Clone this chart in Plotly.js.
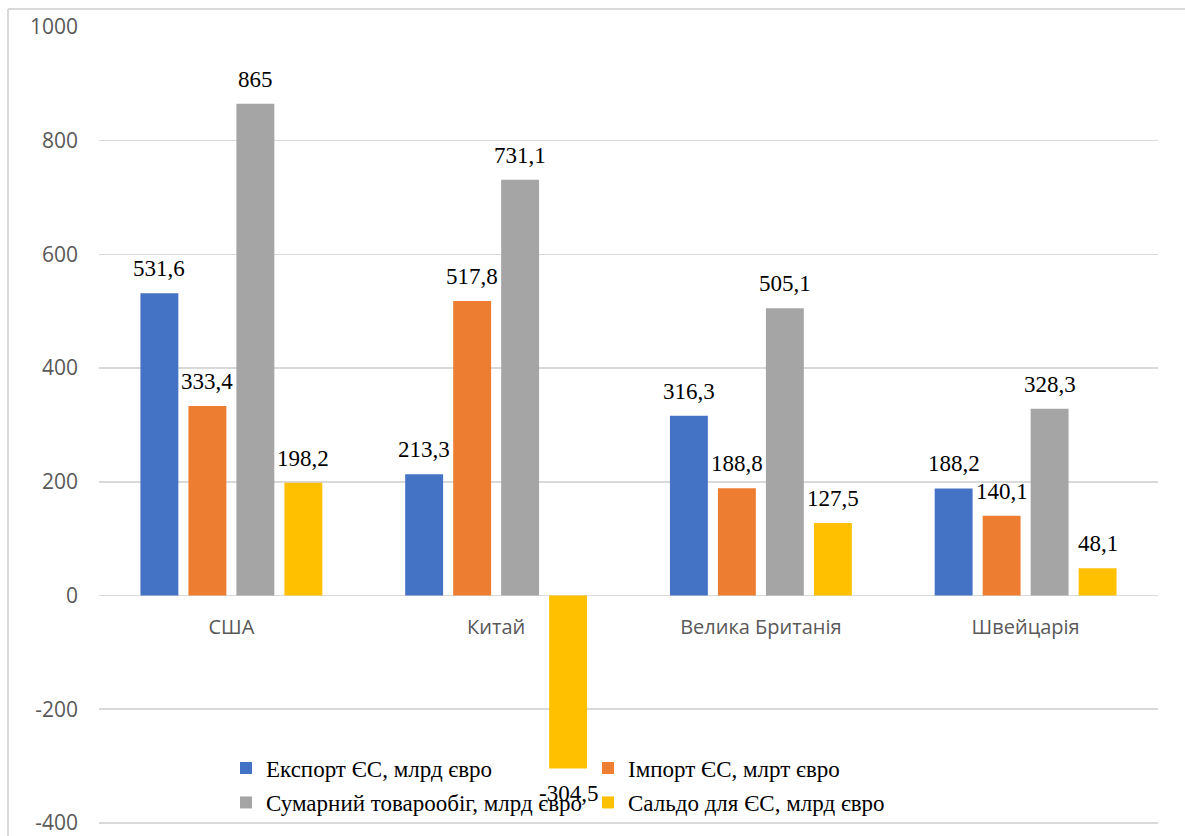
<!DOCTYPE html>
<html>
<head>
<meta charset="utf-8">
<script src="https://cdn.plot.ly/plotly-3.0.1.min.js"></script>
<style>
  html, body { margin: 0; padding: 0; background: #ffffff; overflow: hidden; }
  #chart { width: 1185px; height: 836px; }
</style>
</head>
<body>
<div id="chart"></div>
<script>
// ---- Data ----
const categories = ['США', 'Китай', 'Велика Британія', 'Швейцарія'];
const seriesNames = [
  'Експорт ЄС, млрд євро',
  'Імпорт ЄС, млрт євро',
  'Сумарний товарообіг, млрд євро',
  'Сальдо для ЄС, млрд євро'
];
const exportEU = [531.6, 213.3, 316.3, 188.2];
const importEU = [333.4, 517.8, 188.8, 140.1];
const totalTrade = [865, 731.1, 505.1, 328.3];
const balanceEU = [198.2, -304.5, 127.5, 48.1];
const yTicks = [-400, -200, 0, 200, 400, 600, 800, 1000];

// ---- Style ----
const colors = ['#4472C4', '#ED7D31', '#A5A5A5', '#FFC000'];
const legendRefs = ['legend', 'legend', 'legend2', 'legend2'];
const allSeries = [exportEU, importEU, totalTrade, balanceEU];
const bargap = 0.275;
const bargroupgap = 0.21;
const serif = 'Liberation Serif';
const sans = 'Open Sans';
const fmt = v => String(v).replace('.', ',');

const traces = allSeries.map((vals, i) => ({
  type: 'bar',
  name: seriesNames[i],
  x: categories,
  y: vals,
  marker: { color: colors[i] },
  legend: legendRefs[i],
  hoverinfo: 'skip'
}));

// data labels placed through the axes' scales
const annotations = [];
const nSeries = allSeries.length;
const slot = (1 - bargap) / nSeries;
allSeries.forEach((vals, i) => {
  vals.forEach((v, j) => {
    annotations.push({
      x: j + (i - (nSeries - 1) / 2) * slot,
      y: v,
      xref: 'x', yref: 'y',
      text: fmt(v),
      showarrow: false,
      xanchor: 'center',
      yanchor: v >= 0 ? 'bottom' : 'top',
      yshift: v >= 0 ? 10 : -10,
      font: { family: serif, size: 23, color: '#000000' }
    });
  });
});

const L = 99, R = 27, T = 27, B = 12, W = 1185, H = 836;
const pw = W - L - R, ph = H - T - B;
const yRange = [-402, 1000];
const zeroPaper = (0 - yRange[0]) / (yRange[1] - yRange[0]);

const layout = {
  width: W, height: H,
  margin: { l: L, r: R, t: T, b: B, pad: 0 },
  paper_bgcolor: '#ffffff',
  plot_bgcolor: '#ffffff',
  barmode: 'group',
  bargap: bargap,
  bargroupgap: bargroupgap,
  xaxis: {
    type: 'category',
    anchor: 'free',
    position: zeroPaper,
    showgrid: false,
    showline: false,
    ticks: '',
    ticklabelstandoff: 18,
    tickfont: { family: sans, size: 20, color: '#595959' },
    fixedrange: true
  },
  yaxis: {
    range: yRange,
    tickvals: yTicks,
    ticktext: yTicks.map(String),
    showgrid: true,
    gridcolor: '#d9d9d9',
    gridwidth: 1.5,
    zeroline: true,
    zerolinecolor: '#d9d9d9',
    zerolinewidth: 1.5,
    showline: false,
    ticks: '',
    ticklabelstandoff: 20,
    ticklabeloverflow: 'allow',
    tickfont: { family: sans, size: 21, color: '#595959' },
    fixedrange: true
  },
  legend: {
    orientation: 'h',
    x: (226 - L) / pw, xanchor: 'left',
    y: (H - B - 768) / ph, yanchor: 'middle',
    entrywidth: 317, entrywidthmode: 'pixels',
    bgcolor: 'rgba(0,0,0,0)',
    font: { family: serif, size: 23, color: '#000000' },
    traceorder: 'normal'
  },
  legend2: {
    orientation: 'h',
    x: (226 - L) / pw, xanchor: 'left',
    y: 0, yanchor: 'bottom',
    entrywidth: 317, entrywidthmode: 'pixels',
    bgcolor: 'rgba(0,0,0,0)',
    font: { family: serif, size: 23, color: '#000000' },
    traceorder: 'normal'
  },
  annotations: annotations,
  shapes: [
    { type: 'line', xref: 'paper', yref: 'paper',
      x0: (8 - L) / pw, x1: (8 - L) / pw, y0: -0.05, y1: (H - B - 9) / ph,
      line: { color: '#d9d9d9', width: 2 } },
    { type: 'line', xref: 'paper', yref: 'paper',
      x0: (8 - L) / pw, x1: (1195 - L) / pw, y0: (H - B - 9) / ph, y1: (H - B - 9) / ph,
      line: { color: '#d9d9d9', width: 2 } }
  ],
  showlegend: true
};

Plotly.newPlot('chart', traces, layout, { displayModeBar: false, staticPlot: true });
</script>
</body>
</html>
